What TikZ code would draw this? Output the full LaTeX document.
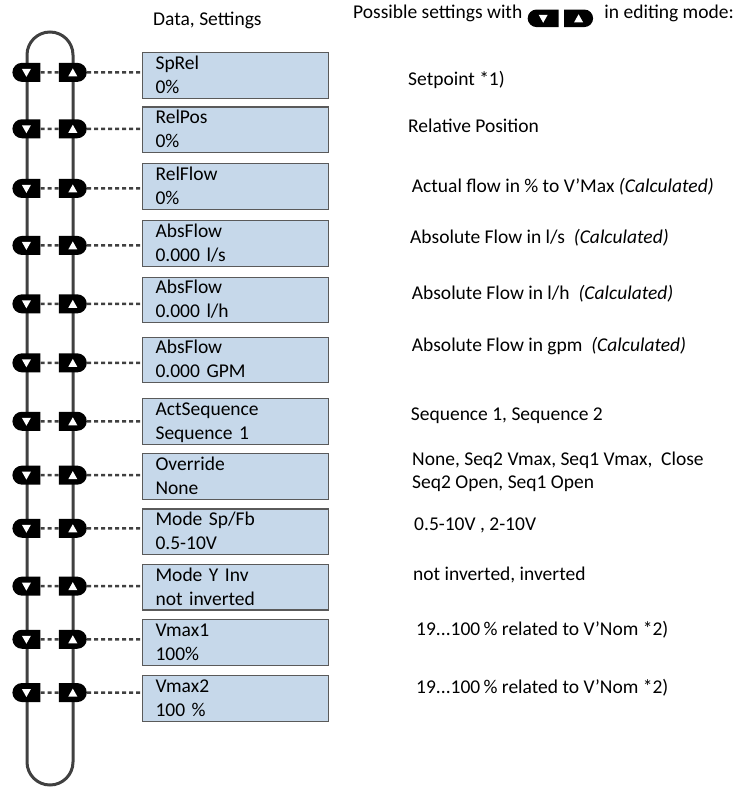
\documentclass[tikz,border=0pt]{standalone}
\usepackage{fontspec}
\setmainfont{Carlito}
\usetikzlibrary{positioning,shapes.misc}
\definecolor{PanelBlue}{HTML}{C6D8EA}
\definecolor{PanelEdge}{HTML}{5A5A5A}
\definecolor{LoopGray}{HTML}{404040}

\begin{document}
\begin{tikzpicture}[x=1pt,y=-1pt,
  txt/.style={inner sep=0pt,align=left,font=\fontsize{19.5}{23.5}\selectfont},
  param/.style={draw=PanelEdge,fill=PanelBlue,line width=1.1pt,text width=160pt,inner xsep=13pt,inner ysep=0pt,text height=16.7pt,text depth=28.9pt,align=left,font=\fontsize{19.5}{24}\selectfont},
  btn/.style={fill=black,rounded rectangle,minimum width=28pt,minimum height=19pt,inner sep=0pt},
  dnbtn/.style={btn,rounded rectangle east arc=none,path picture={\fill[white] ([shift={(-4.5pt,3.5pt)}]path picture bounding box.center) -- ++(9pt,0pt) -- ++(-4.5pt,-8pt) -- cycle;}},
  upbtn/.style={btn,rounded rectangle west arc=none,path picture={\fill[white] ([shift={(-4.5pt,-4pt)}]path picture bounding box.center) -- ++(9pt,0pt) -- ++(-4.5pt,8pt) -- cycle;}},
  loopline/.style={draw=LoopGray,line width=3pt},
  dashline/.style={draw=LoopGray,line width=2.5pt,dash pattern=on 4pt off 3pt},
]
\useasboundingbox (0,0) rectangle (739,787);
% headings
\node[txt,anchor=base west] (hdata) at (153,25) {Data, Settings};
\node[txt,anchor=base west] (hposs) at (353,18.3) {Possible settings with};
\node[dnbtn,minimum width=31pt,minimum height=17.5pt,right=5pt of hposs.base east] (hdn) {};
\node[upbtn,minimum width=29pt,minimum height=17.5pt,right=5pt of hdn] (hup) {};
\node[txt,right=11pt of hup,anchor=base west] (hedit) {in editing mode:};

% menu loop
\draw[loopline] (27,55) arc[start angle=180,end angle=360,radius=23] -- (73,762) arc[start angle=0,end angle=180,radius=23] -- cycle;

% parameter boxes
\node[param,anchor=north west] (b1) at (142,52) {SpRel\\0\%};
\node[param,below=7.7pt of b1] (b2) {RelPos\\0\%};
\node[param,below=10pt of b2] (b3) {RelFlow\\0\%};
\node[param,below=10.3pt of b3] (b4) {AbsFlow\\0.000 l/s};
\node[param,below=9.7pt of b4] (b5) {AbsFlow\\0.000 l/h};
\node[param,below=13.3pt of b5] (b6) {AbsFlow\\0.000 GPM};
\node[param,below=14.7pt of b6] (b7) {ActSequence\\Sequence 1};
\node[param,below=8.7pt of b7] (b8) {Override\\None};
\node[param,below=8.4pt of b8] (b9) {Mode Sp/Fb\\0.5-10V};
\node[param,below=8.7pt of b9] (b10) {Mode Y Inv\\not inverted};
\node[param,below=8.4pt of b10] (b11) {Vmax1\\100\%};
\node[param,below=9.6pt of b11] (b12) {Vmax2\\100 \%};

% buttons
\node[upbtn,left=55pt of b1,yshift=3pt] (u1) {};
\node[dnbtn,left=18pt of u1] (d1) {};
\node[upbtn,left=55pt of b2,yshift=1pt] (u2) {};
\node[dnbtn,left=18pt of u2] (d2) {};
\node[upbtn,left=55pt of b3,yshift=-2pt] (u3) {};
\node[dnbtn,left=18pt of u3] (d3) {};
\node[upbtn,left=55pt of b4,yshift=-2pt] (u4) {};
\node[dnbtn,left=18pt of u4] (d4) {};
\node[upbtn,left=55pt of b5,yshift=-4pt] (u5) {};
\node[dnbtn,left=18pt of u5] (d5) {};
\node[upbtn,left=55pt of b6,yshift=-3pt] (u6) {};
\node[dnbtn,left=18pt of u6] (d6) {};
\node[upbtn,left=55pt of b7] (u7) {};
\node[dnbtn,left=18pt of u7] (d7) {};
\node[upbtn,left=55pt of b8,yshift=1.5pt] (u8) {};
\node[dnbtn,left=18pt of u8] (d8) {};
\node[upbtn,left=55pt of b9,yshift=3.5pt] (u9) {};
\node[dnbtn,left=18pt of u9] (d9) {};
\node[upbtn,left=55pt of b10,yshift=1pt] (u10) {};
\node[dnbtn,left=18pt of u10] (d10) {};
\node[upbtn,left=55pt of b11,yshift=3pt] (u11) {};
\node[dnbtn,left=18pt of u11] (d11) {};
\node[upbtn,left=55pt of b12,yshift=6pt] (u12) {};
\node[dnbtn,left=18pt of u12] (d12) {};

\draw[dashline] (d1) -- (u1) (u1) -- (u1 -| b1.west);
\draw[dashline] (d2) -- (u2) (u2) -- (u2 -| b2.west);
\draw[dashline] (d3) -- (u3) (u3) -- (u3 -| b3.west);
\draw[dashline] (d4) -- (u4) (u4) -- (u4 -| b4.west);
\draw[dashline] (d5) -- (u5) (u5) -- (u5 -| b5.west);
\draw[dashline] (d6) -- (u6) (u6) -- (u6 -| b6.west);
\draw[dashline] (d7) -- (u7) (u7) -- (u7 -| b7.west);
\draw[dashline] (d8) -- (u8) (u8) -- (u8 -| b8.west);
\draw[dashline] (d9) -- (u9) (u9) -- (u9 -| b9.west);
\draw[dashline] (d10) -- (u10) (u10) -- (u10 -| b10.west);
\draw[dashline] (d11) -- (u11) (u11) -- (u11 -| b11.west);
\draw[dashline] (d12) -- (u12) (u12) -- (u12 -| b12.west);

% possible settings
\node[txt,anchor=base west] (r1) at (408,85.7) {Setpoint *1)};
\node[txt,anchor=base west] (r2) at (408,132) {Relative Position};
\node[txt,anchor=base west] (r3) at (411.7,192.7) {Actual flow in \% to V’Max \textit{(Calculated)}};
\node[txt,anchor=base west] (r4) at (410,243.3) {Absolute Flow in l/s~ \textit{(Calculated)}};
\node[txt,anchor=base west] (r5) at (411.7,299.3) {Absolute Flow in l/h~ \textit{(Calculated)}};
\node[txt,anchor=base west] (r6) at (411.7,351.7) {Absolute Flow in gpm~ \textit{(Calculated)}};
\node[txt,anchor=base west] (r7) at (410.7,420) {Sequence 1, Sequence 2};
\node[txt,anchor=base west] (r8) at (412,488.5) {None, Seq2 Vmax, Seq1 Vmax,~ Close\\Seq2 Open, Seq1 Open};
\node[txt,anchor=base west] (r9) at (414,530) {0.5-10V , 2-10V};
\node[txt,anchor=base west] (r10) at (413,580) {not inverted, inverted};
\node[txt,anchor=base west] (r11) at (416,635) {19...100\,\% related to V’Nom *2)};
\node[txt,anchor=base west] (r12) at (416,693) {19...100\,\% related to V’Nom *2)};
\end{tikzpicture}
\end{document}
